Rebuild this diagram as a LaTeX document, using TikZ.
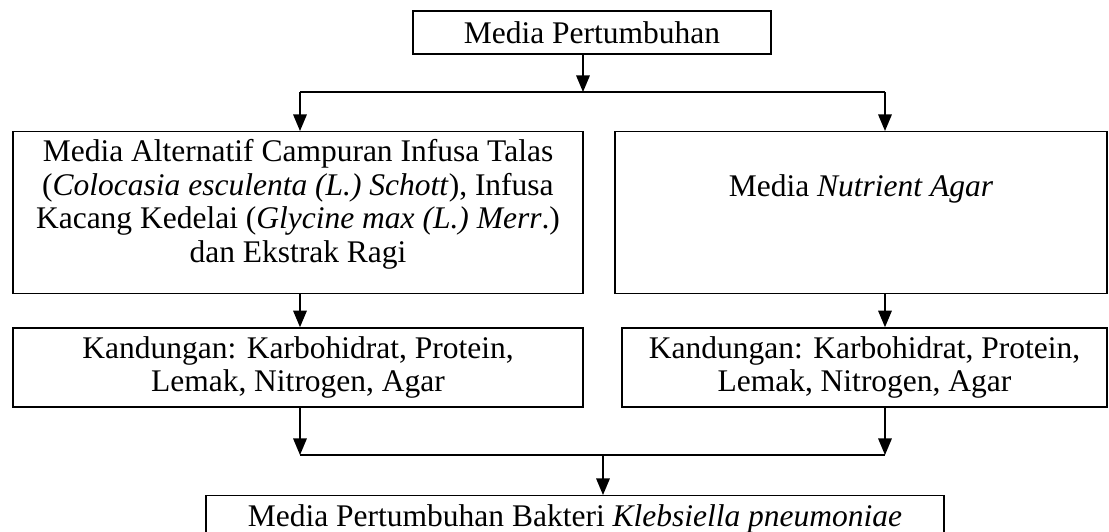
\documentclass[tikz,border=0pt]{standalone}
\usepackage{fontspec}
\setmainfont{Liberation Serif}
\usetikzlibrary{arrows.meta, positioning}

\begin{document}
\begin{tikzpicture}[
    x=0.4pt, y=-0.4pt,
    font=\fontsize{12.6pt}{13.5pt}\selectfont,
    flowbox/.style={rectangle, draw=black, line width=0.6pt, align=center, inner xsep=0pt},
    arrow/.style={-{Triangle[width=5.4pt,length=6.6pt]}, line width=0.6pt},
    link/.style={line width=0.6pt}
]
\useasboundingbox (0,0) rectangle (1109,532);

\node[flowbox, minimum width=143.2pt, minimum height=17.2pt] (top) at (592,32.5) {Media Pertumbuhan};

\node[flowbox, anchor=north, minimum width=228pt, inner ysep=0pt, text height=52.4pt, text depth=12.4pt] (alt) at (298,131)
    {Media Alternatif Campuran Infusa Talas\\(\textit{Colocasia esculenta (L.) Schott}), Infusa\\Kacang Kedelai (\textit{Glycine max (L.) Merr}.)\\dan Ekstrak Ragi};
\node[flowbox, anchor=north, minimum width=196.8pt, inner ysep=0pt, text height=26pt, text depth=38.8pt] (na) at (861,131)
    {Media \textit{Nutrient Agar}};

\node[flowbox, minimum width=228pt, minimum height=30pt] (kalt) at (298,367.5) {Kandungan: Karbohidrat, Protein,\\Lemak, Nitrogen, Agar};
\node[flowbox, minimum width=194pt, minimum height=30pt] (kna) at (864.5,367.5) {Kandungan: Karbohidrat, Protein,\\Lemak, Nitrogen, Agar};

\node[flowbox, anchor=north, minimum width=295.2pt, inner ysep=0pt, text height=12.4pt, text depth=10pt] (hasil) at (575,495)
    {Media Pertumbuhan Bakteri \textit{Klebsiella pneumoniae}};

% junctions
\coordinate (split) at (583,92);
\coordinate (sl) at (300,92);
\coordinate (sr) at (885,92);
\coordinate (ml) at (300,455);
\coordinate (mr) at (885,455);
\coordinate (mc) at (603,455);

\draw[arrow] (top.south -| split) -- (split);
\draw[link] (sl) -- (sr);
\foreach \c/\a/\b in {sl/alt/kalt, sr/na/kna} {
    \draw[arrow] (\c) -- (\c |- \a.north);
    \draw[arrow] (\c |- \a.south) -- (\c |- \b.north);
    \draw[arrow] (\c |- \b.south) -- (\c |- ml);
}
\draw[link] (ml) -- (mr);
\draw[arrow] (mc) -- (mc |- hasil.north);
\end{tikzpicture}
\end{document}
